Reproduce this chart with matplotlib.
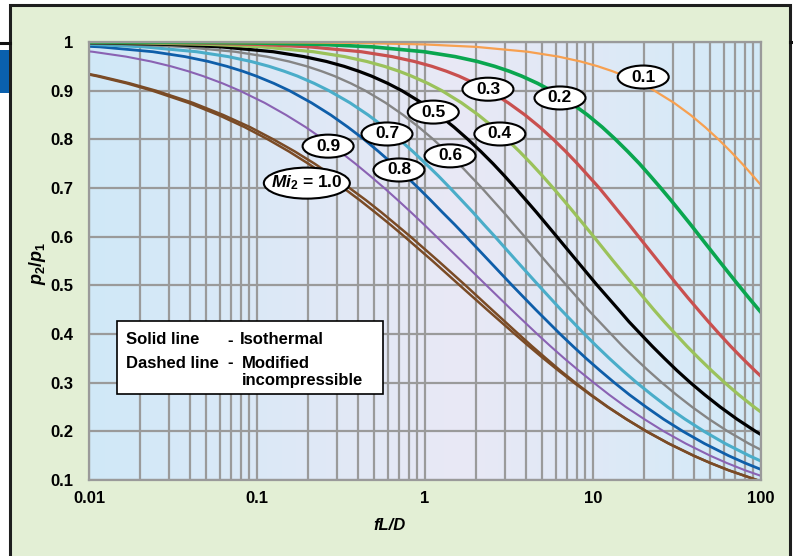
import matplotlib
matplotlib.use('Agg')
import matplotlib.pyplot as plt
import matplotlib.transforms as mtransforms
from matplotlib.patches import Rectangle, Ellipse
from matplotlib.lines import Line2D
from matplotlib.colors import LinearSegmentedColormap
import numpy as np

plt.rcParams['font.family'] = ['Liberation Sans', 'DejaVu Sans']
plt.rcParams['font.weight'] = 'bold'
plt.rcParams['mathtext.fontset'] = 'custom'
plt.rcParams['mathtext.it'] = 'Liberation Sans:italic:bold'
plt.rcParams['mathtext.rm'] = 'Liberation Sans:bold'

# p2/p1 versus fL/D, one curve per outlet Mach number Mi2
x_m01 = [0.005, 0.0099, 0.0198, 0.0396, 0.0991, 0.198, 0.397, 0.997, 2.01, 4.08, 6.22, 8.43, 10.7, 13.05, 15.5,
         19.27, 23.2, 30.35, 38.1, 46.5, 55.8, 66.0, 77.2, 89.6, 103.4]
p_m01 = [0.99998, 0.99995, 0.9999, 0.9998, 0.9995, 0.999, 0.998, 0.995, 0.99, 0.98, 0.97, 0.96, 0.95, 0.94, 0.93,
         0.915, 0.9, 0.875, 0.85, 0.825, 0.8, 0.775, 0.75, 0.725, 0.7]

x_m02 = [0.0048, 0.0096, 0.024, 0.0481, 0.0963, 0.242, 0.487, 0.99, 1.51, 2.05, 2.6, 3.17, 3.76, 4.68, 5.65, 7.39,
         9.28, 11.35, 13.6, 16.1, 18.9, 21.9, 25.3, 29.1, 33.3, 38.1, 43.4, 56.4, 64.4, 73.6, 84.3, 96.9, 129.4]
p_m02 = [0.9999, 0.9998, 0.9995, 0.999, 0.998, 0.995, 0.99, 0.98, 0.97, 0.96, 0.95, 0.94, 0.93, 0.915, 0.9, 0.875,
         0.85, 0.825, 0.8, 0.775, 0.75, 0.725, 0.7, 0.675, 0.65, 0.625, 0.6, 0.55, 0.525, 0.5, 0.475, 0.45, 0.4]

x_m03 = [0.00404, 0.0101, 0.0203, 0.0406, 0.102, 0.205, 0.418, 0.637, 0.864, 1.1, 1.34, 1.59, 1.98, 2.4, 3.13, 3.94,
         4.83, 5.8, 6.88, 8.07, 9.38, 10.9, 12.5, 14.3, 16.4, 18.7, 24.4, 27.9, 31.9, 36.6, 42.2, 48.7, 56.5, 65.9,
         77.5, 91.8, 109.9]
p_m03 = [0.9998, 0.9995, 0.999, 0.998, 0.995, 0.99, 0.98, 0.97, 0.96, 0.95, 0.94, 0.93, 0.915, 0.9, 0.875, 0.85,
         0.825, 0.8, 0.775, 0.75, 0.725, 0.7, 0.675, 0.65, 0.625, 0.6, 0.55, 0.525, 0.5, 0.475, 0.45, 0.425, 0.4, 0.375,
         0.35, 0.325, 0.3]

x_m04 = [0.00525, 0.0105, 0.0211, 0.0529, 0.107, 0.217, 0.332, 0.45, 0.573, 0.70, 0.831, 1.04, 1.26, 1.65, 2.08,
         2.55, 3.07, 3.65, 4.29, 5.0, 5.79, 6.68, 7.68, 8.81, 10.1, 13.2, 17.4, 20.0, 23.0, 26.6, 31.0, 36.2, 42.7,
         50.7, 60.8, 73.8, 91.0, 114.2]
p_m04 = [0.9995, 0.999, 0.998, 0.995, 0.99, 0.98, 0.97, 0.96, 0.95, 0.94, 0.93, 0.915, 0.9, 0.875, 0.85,
         0.825, 0.8, 0.775, 0.75, 0.725, 0.7, 0.675, 0.65, 0.625, 0.6, 0.55, 0.5, 0.475, 0.45, 0.425, 0.4, 0.375, 0.35,
         0.325, 0.3, 0.275, 0.25, 0.225]

x_m05 = [0.00601, 0.012, 0.0303, 0.0611, 0.125, 0.19, 0.259, 0.33, 0.403, 0.48, 0.60, 0.728, 0.957, 1.21, 1.49,
         1.8, 2.15, 2.54, 2.97, 3.45, 3.99, 4.61, 5.3, 6.09, 8.03, 10.6, 14.2, 16.4, 19.2, 22.5, 26.6, 31.6, 38.0,
         46.3, 57.2, 72.0, 92.8, 123.1]
p_m05 = [0.999, 0.998, 0.995, 0.99, 0.98, 0.97, 0.96, 0.95, 0.94, 0.93, 0.915, 0.9, 0.875, 0.85, 0.825,
         0.8, 0.775, 0.75, 0.725, 0.7, 0.675, 0.65, 0.625, 0.6, 0.55, 0.5, 0.45, 0.425, 0.4, 0.375, 0.35, 0.325, 0.3,
         0.275, 0.25, 0.225, 0.2, 0.175]

x_m06 = [0.00714, 0.018, 0.0363, 0.0741, 0.114, 0.155, 0.198, 0.242, 0.289, 0.362, 0.441, 0.583, 0.742, 0.919,
         1.12, 1.34, 1.59, 1.86, 2.18, 2.53, 2.94, 3.39, 3.92, 5.21, 6.95, 9.34, 12.8, 15.0, 17.8, 21.3, 25.7, 31.4,
         38.9, 49.1, 63.4, 84.4, 116.9]
p_m06 = [0.998, 0.995, 0.99, 0.98, 0.97, 0.96, 0.95, 0.94, 0.93, 0.915, 0.9, 0.875, 0.85, 0.825,
         0.8, 0.775, 0.75, 0.725, 0.7, 0.675, 0.65, 0.625, 0.6, 0.55, 0.5, 0.45, 0.4, 0.375, 0.35, 0.325, 0.3, 0.275,
         0.25, 0.225, 0.2, 0.175, 0.15]

x_m07 = [0.00418, 0.0105, 0.0213, 0.0437, 0.0673, 0.092, 0.118, 0.145, 0.174, 0.219, 0.268, 0.358, 0.459, 0.573,
         0.702, 0.847, 1.01, 1.2, 1.41, 1.65, 1.93, 2.24, 2.61, 3.51, 4.74, 6.44, 8.88, 10.5, 12.5, 15.0, 18.2, 22.4,
         27.8, 35.3, 45.8, 61.1, 84.9, 105.9]
p_m07 = [0.998, 0.995, 0.99, 0.98, 0.97, 0.96, 0.95, 0.94, 0.93, 0.915, 0.9, 0.875, 0.85, 0.825,
         0.8, 0.775, 0.75, 0.725, 0.7, 0.675, 0.65, 0.625, 0.6, 0.55, 0.5, 0.45, 0.4, 0.375, 0.35, 0.325, 0.3, 0.275,
         0.25, 0.225, 0.2, 0.175, 0.15, 0.135]

x_m08 = [0.00572, 0.0116, 0.024, 0.0372, 0.0513, 0.0662, 0.0821, 0.0989, 0.126, 0.156, 0.211, 0.275, 0.348, 0.433,
         0.529, 0.64, 0.767, 0.913, 1.08, 1.27, 1.5, 1.76, 2.41, 3.3, 4.56, 6.37, 7.59, 9.09, 11.0, 13.4, 16.5, 20.7,
         26.3, 34.3, 46.0, 64.1, 80.2, 102.7]
p_m08 = [0.995, 0.99, 0.98, 0.97, 0.96, 0.95, 0.94, 0.93, 0.915, 0.9, 0.875, 0.85, 0.825, 0.8,
         0.775, 0.75, 0.725, 0.7, 0.675, 0.65, 0.625, 0.6, 0.55, 0.5, 0.45, 0.4, 0.375, 0.35, 0.325, 0.3, 0.275, 0.25,
         0.225, 0.2, 0.175, 0.15, 0.135, 0.12]

x_m09 = [0.00497, 0.0105, 0.0166, 0.0234, 0.0308, 0.0389, 0.0477, 0.0624, 0.0789, 0.111, 0.149, 0.195, 0.248, 0.311,
         0.385, 0.471, 0.572, 0.689, 0.826, 0.986, 1.17, 1.65, 2.32, 3.27, 4.65, 5.58, 6.74, 8.21, 10.1, 12.5, 15.7,
         20.2, 26.4, 35.6, 49.8, 62.5, 80.3, 117.6]
p_m09 = [0.99, 0.98, 0.97, 0.96, 0.95, 0.94, 0.93, 0.915, 0.9, 0.875, 0.85, 0.825, 0.8, 0.775,
         0.75, 0.725, 0.7, 0.675, 0.65, 0.625, 0.6, 0.55, 0.5, 0.45, 0.4, 0.375, 0.35, 0.325, 0.3, 0.275, 0.25,
         0.225, 0.2, 0.175, 0.15, 0.135, 0.12, 0.1]

x_m10 = [0.00545, 0.00798, 0.0111, 0.0168, 0.0238, 0.0391, 0.059, 0.0845, 0.116, 0.155, 0.202, 0.259, 0.327, 0.409,
         0.505, 0.62, 0.756, 1.11, 1.61, 2.34, 3.42, 4.15, 5.06, 6.22, 7.7, 9.64, 12.2, 15.8, 20.8, 28.2, 39.7, 49.9,
         64.2, 94.4, 105.1]
p_m10 = [0.95, 0.94, 0.93, 0.915, 0.9, 0.875, 0.85, 0.825, 0.8, 0.775, 0.75, 0.725, 0.7, 0.675,
         0.65, 0.625, 0.6, 0.55, 0.5, 0.45, 0.4, 0.375, 0.35, 0.325, 0.3, 0.275, 0.25, 0.225, 0.2, 0.175, 0.15, 0.135,
         0.12, 0.1, 0.095]

# second (modified incompressible) trace, only separable for Mi2 = 1.0
x_m10b = [0.0056, 0.0082, 0.0115, 0.0175, 0.025, 0.0415, 0.063, 0.091, 0.125, 0.168, 0.22, 0.282, 0.355, 0.445,
          0.55, 0.672, 0.82, 1.2, 1.74, 2.5, 3.6, 4.33, 5.25, 6.38, 7.85, 9.75, 12.3, 15.8, 20.8, 28.2, 39.7, 49.9,
          64.2, 94.4, 105.1]
p_m10b = p_m10

curve_labels = ['0.1', '0.2', '0.3', '0.4', '0.5', '0.6', '0.7', '0.8', '0.9', '$Mi_2$ = 1.0']
label_x = [19.9, 6.36, 2.37, 2.79, 1.12, 1.41, 0.594, 0.70, 0.265, 0.198]
label_y = [0.928, 0.885, 0.903, 0.811, 0.856, 0.766, 0.811, 0.737, 0.786, 0.710]

x_ticks = [0.01, 0.1, 1, 10, 100]
x_tick_labels = ['0.01', '0.1', '1', '10', '100']
y_ticks = [0.1, 0.2, 0.3, 0.4, 0.5, 0.6, 0.7, 0.8, 0.9, 1.0]
y_tick_labels = ['0.1', '0.2', '0.3', '0.4', '0.5', '0.6', '0.7', '0.8', '0.9', '1']

W, H = 793, 556
fig = plt.figure(figsize=(W / 100, H / 100), dpi=100)
fig.patch.set_facecolor('white')

# outer panel and page decorations
fig.patches.append(Rectangle((10 / W, -0.05), 780 / W, 1.05 - 5 / H, transform=fig.transFigure,
                             facecolor='#e3efd5', edgecolor='#1e1e1e', lw=2.2, zorder=-5))
fig.patches.append(Rectangle((0, 1 - 93 / H), 9 / W, 43 / H, transform=fig.transFigure,
                             facecolor='#0a60ae', edgecolor='none', zorder=-4))
fig.lines.append(Line2D([0, 10 / W], [1 - 43 / H] * 2, transform=fig.transFigure, color='#111111', lw=2.2, zorder=-4))
fig.lines.append(Line2D([790 / W, 1], [1 - 42 / H] * 2, transform=fig.transFigure, color='#111111', lw=2.2, zorder=-4))

ax = fig.add_axes([89 / W, 1 - 480 / H, 672 / W, 438 / H])
ax.patch.set_visible(False)
cmap = LinearSegmentedColormap.from_list('bg', [(0, '#d0e9f8'), (0.55, '#e9e8f5'), (1, '#d2eaf8')])
ax.imshow(np.linspace(0, 1, 256)[None, :], extent=[0, 1, 0, 1], transform=ax.transAxes,
          aspect='auto', cmap=cmap, zorder=-1, interpolation='bicubic')
ax.set_xscale('log')
ax.set_xlim(0.01, 100)
ax.set_ylim(0.1, 1.0)
ax.set_axisbelow(True)
ax.grid(which='both', color='#9a9a9a', lw=1.6)
for s in ax.spines.values():
    s.set_color('#9a9a9a')
    s.set_linewidth(1.6)

ax.set_xticks(x_ticks, labels=x_tick_labels)
ax.set_yticks(y_ticks, labels=y_tick_labels)
ax.tick_params(which='both', length=0, labelsize=12)
ax.tick_params(axis='y', pad=11)
ax.tick_params(axis='x', pad=8)

ax.plot(x_m10b, p_m10b, color='#7a4b26', lw=1.8)
ax.plot(x_m10, p_m10, color='#7a4b26', lw=1.8)
ax.plot(x_m09, p_m09, color='#8a62b3', lw=1.5)
ax.plot(x_m08, p_m08, color='#0f5ea9', lw=2.0)
ax.plot(x_m07, p_m07, color='#4aadc9', lw=2.2)
ax.plot(x_m06, p_m06, color='#858585', lw=1.7)
ax.plot(x_m05, p_m05, color='#000000', lw=2.3)
ax.plot(x_m04, p_m04, color='#9bc25b', lw=2.3)
ax.plot(x_m03, p_m03, color='#c9504f', lw=2.3)
ax.plot(x_m02, p_m02, color='#0aa64f', lw=2.6)
ax.plot(x_m01, p_m01, color='#f7a050', lw=1.6)

# oval curve tags
for i, txt in enumerate(curve_labels):
    w, h = (86, 31) if i == 9 else (51, 23)
    tr = mtransforms.ScaledTranslation(label_x[i], label_y[i], ax.transData)
    ax.add_patch(Ellipse((0, 0), w, h, transform=tr, facecolor='white', edgecolor='black',
                         lw=1.5, zorder=5, clip_on=False))
    ax.text(label_x[i], label_y[i], txt, ha='center', va='center', fontsize=12.5,
            fontweight='bold', zorder=6)

# note box
fig.patches.append(Rectangle((117 / W, 1 - 394 / H), 266 / W, 73 / H, transform=fig.transFigure,
                             facecolor='white', edgecolor='black', lw=1.2, zorder=3))
note_kw = dict(fontsize=12, fontweight='bold', va='center', zorder=4)
fig.text(126 / W, 1 - 340 / H, 'Solid line', **note_kw)
fig.text(227 / W, 1 - 340 / H, '-', **note_kw)
fig.text(240 / W, 1 - 340 / H, 'Isothermal', **note_kw)
fig.text(126 / W, 1 - 363 / H, 'Dashed line', **note_kw)
fig.text(227 / W, 1 - 363 / H, '-', **note_kw)
fig.text(242 / W, 1 - 363 / H, 'Modified', **note_kw)
fig.text(242 / W, 1 - 381 / H, 'incompressible', **note_kw)

fig.text(390 / W, 1 - 525 / H, 'fL/D', fontsize=12, fontweight='bold', style='italic',
         ha='center', va='center')
fig.text(37 / W, 1 - 263 / H, '$p_2/p_1$', fontsize=13, rotation=90, ha='center', va='center')

fig.savefig('out.png', dpi=100)
